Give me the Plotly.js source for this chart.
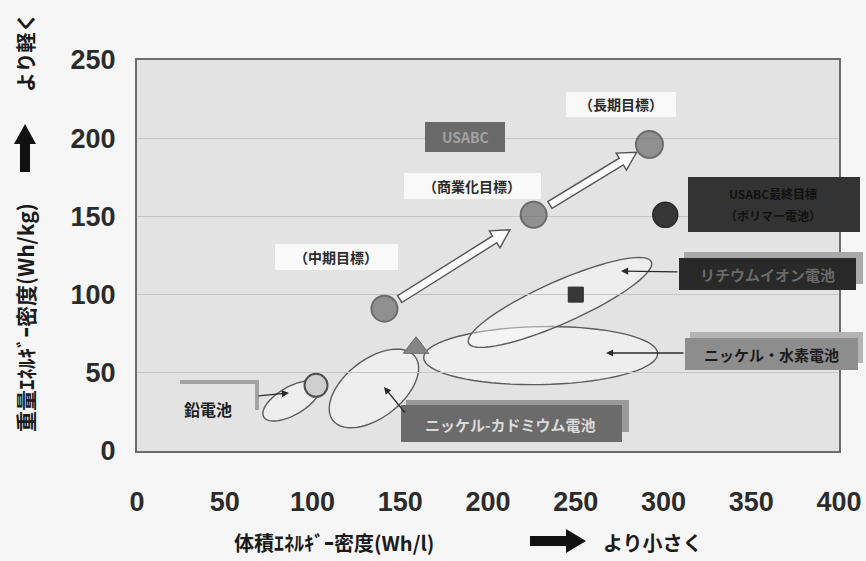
<!DOCTYPE html>
<html>
<head>
<meta charset="utf-8">
<script src="https://cdn.plot.ly/plotly-3.0.1.min.js"></script>
<style>
  html, body { margin: 0; padding: 0; background: #f6f6f6; }
  #chart { width: 866px; height: 561px; }
</style>
</head>
<body>
<div id="chart"></div>
<script>
// ---- data -------------------------------------------------------------
const xTicks = [0, 50, 100, 150, 200, 250, 300, 350, 400];
const yTicks = [0, 50, 100, 150, 200, 250];

// existing batteries (volumetric Wh/l, gravimetric Wh/kg)
const leadX = [102], leadY = [42];            // 鉛電池
const nicdX = [159], nicdY = [66];            // ニッケル-カドミウム電池
const liionX = [250], liionY = [100];         // リチウムイオン電池

// USABC targets
const goalNames = ['（中期目標）', '（商業化目標）', '（長期目標）'];
const goalX = [141, 226, 292];
const goalY = [91, 151, 196];
const finalX = [301], finalY = [151];         // USABC最終目標
const finalLines = ['USABC最終目標', '（ポリマー電池）'];

// battery ranges (ellipse centres)
const rangeNames = ['鉛電池', 'ニッケル-カドミウム電池', 'ニッケル・水素電池', 'リチウムイオン電池'];
const rangeX = [88, 135, 230, 241];
const rangeY = [32, 40, 61, 95];

// ---- geometry helpers --------------------------------------------------
const W = 866, H = 561;
const M = { l: 137, r: 27, t: 60, b: 110 };
const PW = W - M.l - M.r, PH = H - M.t - M.b;
const X0 = 0, X1 = 400, Y0 = 0, Y1 = 250;
const toPx = (x, y) => [M.l + (x - X0) / (X1 - X0) * PW, M.t + PH - (y - Y0) / (Y1 - Y0) * PH];
const toData = (px, py) => [X0 + (px - M.l) / PW * (X1 - X0), Y0 + (M.t + PH - py) / PH * (Y1 - Y0)];
const paperX = px => (px - M.l) / PW;
const paperY = py => (M.t + PH - py) / PH;
const pathFromPx = pts => 'M ' + pts.map(p => { const d = toData(p[0], p[1]); return d[0].toFixed(2) + ',' + d[1].toFixed(2); }).join(' L ') + ' Z';
const paperPath = (pts, close) => 'M ' + pts.map(p => paperX(p[0]).toFixed(4) + ',' + paperY(p[1]).toFixed(4)).join(' L ') + (close ? ' Z' : '');

// ellipse outline (semi-axes in px, angle in degrees, counter-clockwise on screen)
const ellipseStyle = [
  { a: 32, b: 14, ang: 30 },
  { a: 52, b: 29, ang: 38 },
  { a: 117, b: 29, ang: 1 },
  { a: 100, b: 21, ang: 24 }
];
function ellipsePath(cx, cy, s) {
  const c = toPx(cx, cy), t = s.ang * Math.PI / 180, pts = [];
  for (let i = 0; i < 72; i++) {
    const u = i / 72 * 2 * Math.PI;
    const ex = s.a * Math.cos(u), ey = s.b * Math.sin(u);
    pts.push([c[0] + ex * Math.cos(t) - ey * Math.sin(t), c[1] - (ex * Math.sin(t) + ey * Math.cos(t))]);
  }
  return pathFromPx(pts);
}

// hollow block arrow between two marks, gaps in px from each mark centre
function blockArrow(xa, ya, xb, yb, gapA, gapB) {
  const A = toPx(xa, ya), B = toPx(xb, yb);
  const dx = B[0] - A[0], dy = B[1] - A[1], L = Math.hypot(dx, dy);
  const ux = dx / L, uy = dy / L, nx = -uy, ny = ux;
  const T = [A[0] + ux * gapA, A[1] + uy * gapA];
  const P = [B[0] - ux * gapB, B[1] - uy * gapB];
  const hl = 18, sw = 4, hw = 10;
  const Bh = [P[0] - ux * hl, P[1] - uy * hl];
  return pathFromPx([
    [T[0] + nx * sw, T[1] + ny * sw], [Bh[0] + nx * sw, Bh[1] + ny * sw], [Bh[0] + nx * hw, Bh[1] + ny * hw],
    P, [Bh[0] - nx * hw, Bh[1] - ny * hw], [Bh[0] - nx * sw, Bh[1] - ny * sw], [T[0] - nx * sw, T[1] - ny * sw]
  ]);
}

// thick solid arrow in page pixels (tail -> tip)
function solidArrow(tx, ty, px, py, sw, hw, hl) {
  const dx = px - tx, dy = py - ty, L = Math.hypot(dx, dy);
  const ux = dx / L, uy = dy / L, nx = -uy, ny = ux;
  const Bh = [px - ux * hl, py - uy * hl];
  return paperPath([
    [tx + nx * sw, ty + ny * sw], [Bh[0] + nx * sw, Bh[1] + ny * sw], [Bh[0] + nx * hw, Bh[1] + ny * hw],
    [px, py], [Bh[0] - nx * hw, Bh[1] - ny * hw], [Bh[0] - nx * sw, Bh[1] - ny * sw], [tx - nx * sw, ty - ny * sw]
  ], true);
}

const rectPx = (x0, y0, x1, y1, fill) => ({
  type: 'rect', xref: 'paper', yref: 'paper', layer: 'above',
  x0: paperX(x0), x1: paperX(x1), y0: paperY(y1), y1: paperY(y0),
  fillcolor: fill, line: { width: 0 }
});

// ---- traces --------------------------------------------------------------
const traces = [
  { x: leadX, y: leadY, mode: 'markers', type: 'scatter', name: '鉛電池',
    marker: { symbol: 'circle', size: 23, color: '#cfcfcf', line: { color: '#505050', width: 2 } } },
  { x: nicdX, y: nicdY, mode: 'markers', type: 'scatter', name: 'ニッケル-カドミウム電池',
    marker: { symbol: 'triangle-up', size: 22, color: '#858585', line: { color: '#6a6a6a', width: 1 } } },
  { x: goalX, y: goalY, mode: 'markers', type: 'scatter', name: 'USABC',
    marker: { symbol: 'circle', size: [26, 26, 27], color: '#6e6e6e', line: { color: '#3a3a3a', width: 2 } } },
  { x: finalX, y: finalY, mode: 'markers', type: 'scatter', name: 'USABC最終目標',
    marker: { symbol: 'circle', size: 25, color: '#363636', line: { color: '#2a2a2a', width: 1.5 } } },
  { x: liionX, y: liionY, mode: 'markers', type: 'scatter', name: 'リチウムイオン電池',
    marker: { symbol: 'square', size: 15, color: '#383838', line: { color: '#2a2a2a', width: 1 } } }
];

// ---- shapes --------------------------------------------------------------
const shapes = [];
// range ellipses
for (let i = 0; i < rangeNames.length; i++) {
  shapes.push({ type: 'path', xref: 'x', yref: 'y', layer: 'below',
    path: ellipsePath(rangeX[i], rangeY[i], ellipseStyle[i]),
    fillcolor: 'rgba(250,250,250,0.45)', line: { color: '#5c5c5c', width: 1.4 } });
}
// target progression arrows
shapes.push({ type: 'path', xref: 'x', yref: 'y', path: blockArrow(goalX[0], goalY[0], goalX[1], goalY[1], 18, 28),
  fillcolor: '#fbfbfb', line: { color: '#555', width: 1.4 } });
shapes.push({ type: 'path', xref: 'x', yref: 'y', path: blockArrow(goalX[1], goalY[1], goalX[2], goalY[2], 19, 15),
  fillcolor: '#fbfbfb', line: { color: '#555', width: 1.4 } });

// label panels (shadow first, then panel)
shapes.push(rectPx(425, 122, 505, 152, '#6a6a6a'));                 // USABC
shapes.push(rectPx(566, 92, 676, 117, '#f9f9f9'));                  // 長期目標
shapes.push(rectPx(404, 173, 541, 199, '#f9f9f9'));                 // 商業化目標
shapes.push(rectPx(275, 244, 398, 270, '#f9f9f9'));                 // 中期目標
shapes.push(rectPx(688, 177, 860, 232, '#333333'));                 // 最終目標
shapes.push(rectPx(684, 252, 863, 284, '#a9a9a9'));                 // Li-ion shadow
shapes.push(rectPx(679, 258, 856, 290, '#292929'));                 // Li-ion
shapes.push(rectPx(690, 332, 863, 363, '#b4b4b4'));                 // Ni-MH shadow
shapes.push(rectPx(685, 338, 858, 370, '#8d8d8d'));                 // Ni-MH
shapes.push(rectPx(406, 400, 629, 432, '#9a9a9a'));                 // Ni-Cd shadow
shapes.push(rectPx(401, 405, 622, 442, '#6b6b6b'));                 // Ni-Cd
// lead label bracket
shapes.push({ type: 'path', xref: 'paper', yref: 'paper', layer: 'above',
  path: paperPath([[180, 382], [257, 382], [257, 410]], false), line: { color: '#a3a3a3', width: 4 } });
// axis-title arrows
shapes.push({ type: 'path', xref: 'paper', yref: 'paper', path: solidArrow(530, 541, 586, 541, 5, 12, 20),
  fillcolor: '#111', line: { width: 0 } });
shapes.push({ type: 'path', xref: 'paper', yref: 'paper', path: solidArrow(25, 172, 25, 124, 5, 11, 20),
  fillcolor: '#111', line: { width: 0 } });

// ---- annotations ---------------------------------------------------------
const jp = 'Noto Sans CJK JP';
const txt = (px, py, text, size, color, extra) => Object.assign({
  xref: 'paper', yref: 'paper', x: paperX(px), y: paperY(py), text: text, showarrow: false,
  xanchor: 'center', yanchor: 'middle', font: { family: jp, size: size, color: color, weight: 700 }
}, extra || {});

function pointer(fromPx, toPxPt) {
  const a = toData(fromPx[0], fromPx[1]), b = toData(toPxPt[0], toPxPt[1]);
  return { xref: 'x', yref: 'y', axref: 'x', ayref: 'y', x: b[0], y: b[1], ax: a[0], ay: a[1], text: '',
    showarrow: true, arrowhead: 2, arrowsize: 1.1, arrowwidth: 1.3, arrowcolor: '#2a2a2a', standoff: 0, startstandoff: 0 };
}

const annotations = [
  txt(465, 137, 'USABC', 14, '#a2a2a2'),
  txt(621, 104, goalNames[2], 14, '#2a2a2a'),
  txt(472, 186, goalNames[1], 14, '#2a2a2a'),
  txt(336, 257, goalNames[0], 14, '#2a2a2a'),
  txt(773, 193, finalLines[0], 12, '#111111'),
  txt(773, 215, finalLines[1], 12, '#111111'),
  txt(767, 274, rangeNames[3], 15, '#6a6a6a'),
  txt(771, 354, rangeNames[2], 15, '#1c1c1c'),
  txt(511, 424, rangeNames[1], 15, '#dadada'),
  txt(208, 409, rangeNames[0], 16, '#1e1e1e'),
  // pointers from labels into ranges
  pointer([679, 272], [621, 271]),
  pointer([685, 353], [606, 353]),
  pointer([406, 414], [384, 387]),
  pointer([257, 396], [289, 393]),
  // axis titles
  txt(334, 542, '体積ｴﾈﾙｷﾞｰ密度(Wh/l)', 20, '#1a1a1a'),
  txt(653, 542, 'より小さく', 20, '#1a1a1a'),
  txt(25, 318, '重量ｴﾈﾙｷﾞｰ密度(Wh/kg)', 21, '#1a1a1a', { textangle: -90 }),
  txt(25, 52, 'より軽く', 20, '#1a1a1a', { textangle: -90 })
];

// ---- layout --------------------------------------------------------------
const tickFont = { family: 'Liberation Sans', size: 27, color: '#2b2b2b', weight: 700 };
const layout = {
  width: W, height: H,
  margin: M,
  paper_bgcolor: '#f6f6f6',
  plot_bgcolor: '#e3e3e3',
  showlegend: false,
  xaxis: {
    range: [X0, X1], tickvals: xTicks, ticktext: xTicks.map(String),
    ticks: 'outside', ticklen: 26, tickcolor: 'rgba(0,0,0,0)', tickfont: tickFont,
    showgrid: false, zeroline: false, showline: true, mirror: true, linecolor: '#6c6c6c', linewidth: 2,
    fixedrange: true
  },
  yaxis: {
    range: [Y0, Y1], tickvals: yTicks, ticktext: yTicks.map(String),
    ticks: 'outside', ticklen: 14, tickcolor: 'rgba(0,0,0,0)', tickfont: tickFont,
    showgrid: true, gridcolor: '#c4c4c4', gridwidth: 1, zeroline: false,
    showline: true, mirror: true, linecolor: '#6c6c6c', linewidth: 2, fixedrange: true
  },
  shapes: shapes,
  annotations: annotations
};

Plotly.newPlot('chart', traces, layout, { displayModeBar: false, staticPlot: true });
</script>
</body>
</html>
